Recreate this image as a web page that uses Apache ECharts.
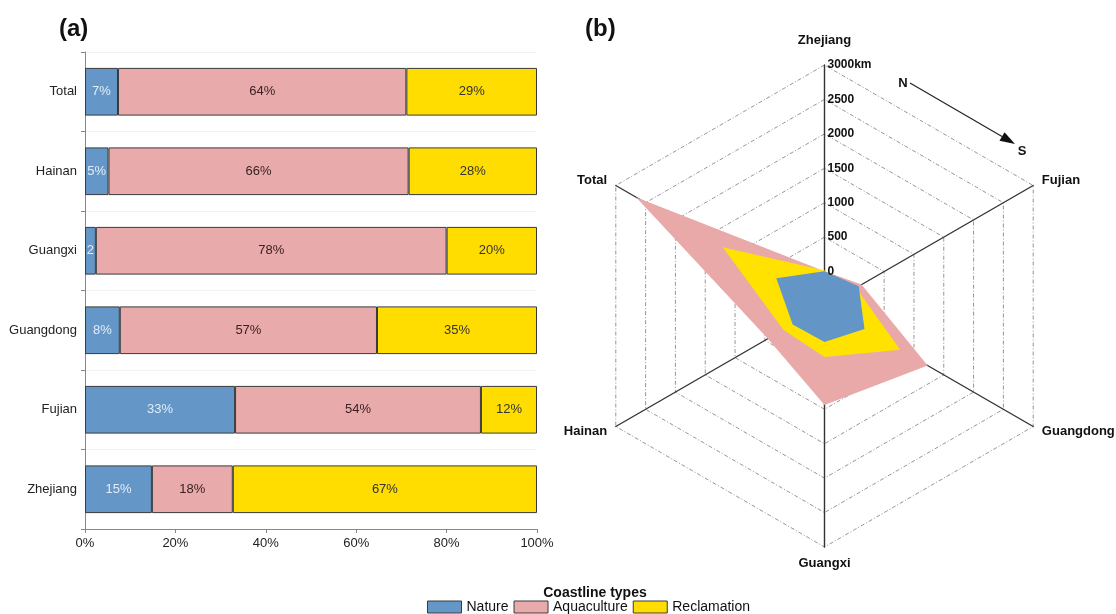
<!DOCTYPE html>
<html>
<head>
<meta charset="utf-8">
<script src="https://cdn.jsdelivr.net/npm/echarts@6/dist/echarts.min.js"></script>
<style>
  html, body { margin: 0; padding: 0; background: #fff; }
  #main { width: 1116px; height: 614px; }
</style>
</head>
<body>
<div id="main"></div>
<script>
// (a) share of each coastline type, percent, top to bottom
var provinces = ['Total', 'Hainan', 'Guangxi', 'Guangdong', 'Fujian', 'Zhejiang']
var natureShare = [7.3, 5.2, 2.4, 7.7, 33.2, 14.8]
var aquaShare = [63.8, 66.4, 77.6, 56.9, 54.4, 17.9]
var reclShare = [28.9, 28.4, 20.0, 35.4, 12.4, 67.3]

// (b) length of each coastline type, km
var radarNames = ['Zhejiang', 'Total', 'Hainan', 'Guangxi', 'Guangdong', 'Fujian']
var natureKm = [3, 308, 34, 24, 171, 74]
var aquaKm = [4, 2660, 449, 938, 1230, 121]
var reclKm = [14, 1205, 190, 241, 769, 27]
var radarTicks = [0, 500, 1000, 1500, 2000, 2500, 3000]

var typeNames = ['Nature', 'Aquaculture', 'Reclamation']
var colors = ['#6497c8', '#e8aaaa', '#ffdd00']
var font = 'Arial, "Liberation Sans", sans-serif'

var chart = echarts.init(document.getElementById('main'))

function barSeries (name, data, color, labelColor) {
  return {
    name: name,
    type: 'bar',
    stack: 'share',
    barWidth: '60%',
    data: data,
    itemStyle: { color: color, borderColor: '#3a3a3a', borderWidth: 1 },
    label: {
      show: true,
      color: labelColor,
      fontSize: 13,
      fontFamily: font,
      formatter: function (p) {
        // narrow segment: the percent sign does not fit
        return p.value < 3 ? Math.round(p.value) : Math.round(p.value) + '%'
      }
    }
  }
}

// N -> S arrow
var ax0 = 910, ay0 = 83, ax1 = 1015, ay1 = 144
var ang = Math.atan2(ay1 - ay0, ax1 - ax0)
var headLen = 15, headW = 5
var bx = ax1 - headLen * Math.cos(ang), by = ay1 - headLen * Math.sin(ang)

chart.setOption({
  animation: false,
  title: [
    { text: '(a)', left: 54, top: 12, textStyle: { fontSize: 24, fontWeight: 'bold', fontFamily: font, color: '#111' } },
    { text: '(b)', left: 580, top: 12, textStyle: { fontSize: 24, fontWeight: 'bold', fontFamily: font, color: '#111' } },
    { text: 'Coastline types', left: 590, top: 581, textAlign: 'center', textStyle: { fontSize: 14, fontWeight: 'bold', fontFamily: font, color: '#111' } }
  ],
  legend: {
    data: typeNames,
    left: 422,
    top: 595,
    itemWidth: 34,
    itemHeight: 12,
    itemGap: 5,
    icon: 'rect',
    itemStyle: { borderColor: '#3a3a3a', borderWidth: 1 },
    textStyle: { fontSize: 14, fontFamily: font, color: '#111' }
  },
  grid: [
    { left: 85, right: 579, top: 52, bottom: 85 },
    { left: 824.5, top: 65, width: 1, height: 241 }
  ],
  xAxis: [
    {
      gridIndex: 0,
      type: 'value',
      min: 0,
      max: 100,
      interval: 20,
      axisLine: { show: true, lineStyle: { color: '#888' } },
      axisTick: { show: true, length: 4, lineStyle: { color: '#888' } },
      splitLine: { show: false },
      axisLabel: { formatter: '{value}%', color: '#222', fontSize: 13, fontFamily: font, margin: 8 }
    },
    { gridIndex: 1, type: 'value', show: false }
  ],
  yAxis: [
    {
      gridIndex: 0,
      type: 'category',
      inverse: true,
      data: provinces,
      axisLine: { show: true, lineStyle: { color: '#888' } },
      axisTick: { show: true, length: 4, lineStyle: { color: '#888' } },
      splitLine: { show: true, lineStyle: { color: '#f3f3f3' } },
      axisLabel: { color: '#222', fontSize: 13, fontFamily: font, margin: 8 }
    },
    {
      gridIndex: 1,
      type: 'value',
      min: -500,
      max: 3000,
      interval: 500,
      z: 10,
      axisLine: { show: false },
      axisTick: { show: false },
      splitLine: { show: false },
      axisLabel: {
        inside: true,
        margin: 3,
        color: '#111',
        fontSize: 12,
        fontWeight: 'bold',
        fontFamily: font,
        formatter: function (v) {
          if (radarTicks.indexOf(v) < 0) return ''
          return v === 3000 ? v + 'km' : String(v)
        }
      }
    }
  ],
  radar: {
    center: [824.5, 306],
    radius: 241,
    startAngle: 90,
    shape: 'polygon',
    splitNumber: 7,
    indicator: radarNames.map(function (n) { return { name: n, min: -500, max: 3000 } }),
    axisName: {
      color: '#111',
      fontSize: 13,
      fontWeight: 'bold',
      fontFamily: font,
      formatter: function (n) { return n === 'Zhejiang' ? '{up|' + n + '}' : n },
      rich: { up: { color: '#111', fontSize: 13, fontWeight: 'bold', fontFamily: font, padding: [0, 0, 8, 0] } }
    },
    nameGap: 10,
    axisLine: { lineStyle: { color: '#333', width: 1.4 } },
    axisTick: { show: false },
    axisLabel: { show: false },
    splitLine: { lineStyle: { color: '#7a7a7a', width: 0.8, type: [4, 2, 1, 2] } },
    splitArea: { show: false }
  },
  series: [
    barSeries('Nature', natureShare, colors[0], '#e2ecf7'),
    barSeries('Aquaculture', aquaShare, colors[1], '#3a2222'),
    barSeries('Reclamation', reclShare, colors[2], '#333'),
    {
      type: 'radar',
      symbol: 'none',
      lineStyle: { width: 0 },
      data: [
        { name: 'Aquaculture', value: aquaKm, itemStyle: { color: '#e9a9a9' }, areaStyle: { color: '#e9a9a9', opacity: 1 } },
        { name: 'Reclamation', value: reclKm, itemStyle: { color: '#ffe200' }, areaStyle: { color: '#ffe200', opacity: 1 } },
        { name: 'Nature', value: natureKm, itemStyle: { color: '#6396c6' }, areaStyle: { color: '#6396c6', opacity: 1 } }
      ]
    }
  ],
  graphic: [
    { type: 'line', shape: { x1: ax0, y1: ay0, x2: bx, y2: by }, style: { stroke: '#222', lineWidth: 1.2 } },
    {
      type: 'polygon',
      shape: {
        points: [
          [ax1, ay1],
          [bx + headW * Math.sin(ang), by - headW * Math.cos(ang)],
          [bx - headW * Math.sin(ang), by + headW * Math.cos(ang)]
        ]
      },
      style: { fill: '#111' }
    },
    { type: 'text', x: 903, y: 83, style: { text: 'N', fill: '#111', font: 'bold 13px ' + font, align: 'center', verticalAlign: 'middle' } },
    { type: 'text', x: 1022, y: 151, style: { text: 'S', fill: '#111', font: 'bold 13px ' + font, align: 'center', verticalAlign: 'middle' } }
  ]
})
</script>
</body>
</html>
